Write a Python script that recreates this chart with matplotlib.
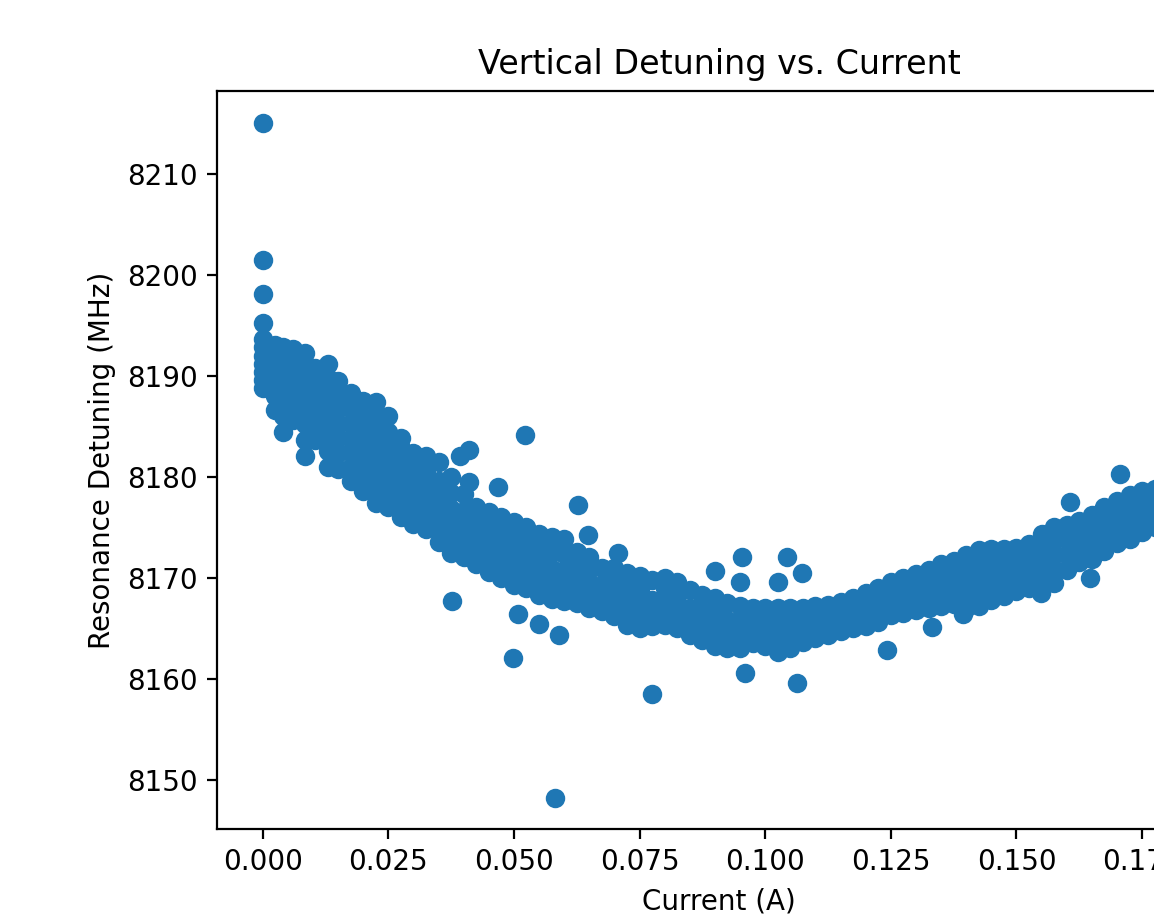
import matplotlib
matplotlib.use("Agg")
import matplotlib.pyplot as plt

# main band: one column of readings per current step (A -> list of MHz)
band_current = [
    0.0000, 0.0025, 0.0040, 0.0060, 0.0085, 0.0105, 0.0130, 0.0150, 0.0175, 0.0200,
    0.0225, 0.0250, 0.0275, 0.0300, 0.0325, 0.0350, 0.0375, 0.0400, 0.0425, 0.0450,
    0.0475, 0.0500, 0.0525, 0.0550, 0.0575, 0.0600, 0.0625, 0.0650, 0.0675, 0.0700,
    0.0725, 0.0750, 0.0775, 0.0800, 0.0825, 0.0850, 0.0875, 0.0900, 0.0925, 0.0950,
    0.0975, 0.1000, 0.1025, 0.1050, 0.1075, 0.1100, 0.1125, 0.1150, 0.1175, 0.1200,
    0.1225, 0.1250, 0.1275, 0.1300, 0.1325, 0.1350, 0.1375, 0.1400, 0.1425, 0.1450,
    0.1475, 0.1500, 0.1525, 0.1550, 0.1575, 0.1600, 0.1625, 0.1650, 0.1675, 0.1700,
    0.1725, 0.1750, 0.1775, 0.1800,
]
band_detuning = [
    [8188.8, 8189.6, 8190.4, 8191.2, 8192.0, 8192.8, 8193.6, 8195.2, 8198.1, 8201.5, 8215.0],
    [8186.6, 8188.0, 8189.3, 8190.6, 8191.8, 8193.0],
    [8184.4, 8186.0, 8187.5, 8189.0, 8190.4, 8191.7, 8192.8],
    [8185.6, 8187.0, 8188.4, 8189.8, 8191.2, 8192.6],
    [8182.0, 8183.6, 8185.2, 8186.8, 8188.3, 8189.8, 8191.0, 8192.2],
    [8183.6, 8185.0, 8186.5, 8188.0, 8189.4, 8190.8],
    [8181.0, 8182.5, 8184.0, 8185.5, 8187.0, 8188.4, 8189.8, 8191.2],
    [8180.8, 8182.3, 8183.8, 8185.2, 8186.7, 8188.1, 8189.5],
    [8179.6, 8181.0, 8182.4, 8183.8, 8185.3, 8186.8, 8188.3],
    [8178.6, 8180.0, 8181.4, 8182.8, 8184.3, 8185.9, 8187.5],
    [8177.4, 8178.9, 8180.4, 8181.9, 8183.4, 8184.9, 8186.2, 8187.4],
    [8177.0, 8178.4, 8179.8, 8181.3, 8182.8, 8184.4, 8186.0],
    [8176.0, 8177.4, 8178.8, 8180.2, 8181.6, 8182.8, 8183.8],
    [8175.3, 8176.7, 8178.1, 8179.5, 8180.9, 8182.3],
    [8174.8, 8176.2, 8177.6, 8179.0, 8180.4, 8182.0],
    [8173.5, 8175.0, 8176.5, 8178.0, 8179.6, 8181.5],
    [8172.4, 8173.8, 8175.3, 8176.8, 8178.4, 8180.0],
    [8172.0, 8173.5, 8175.0, 8176.6, 8178.3],
    [8171.3, 8172.7, 8174.1, 8175.6, 8177.0],
    [8170.6, 8172.0, 8173.5, 8175.0, 8176.5],
    [8170.0, 8171.5, 8173.0, 8174.5, 8176.0],
    [8169.3, 8170.8, 8172.3, 8173.9, 8175.5],
    [8169.0, 8170.5, 8172.0, 8173.5, 8175.0],
    [8168.3, 8169.8, 8171.3, 8172.8, 8174.3],
    [8167.9, 8169.4, 8170.9, 8172.5, 8174.0],
    [8167.7, 8169.2, 8170.7, 8172.3, 8173.8],
    [8167.5, 8168.9, 8170.3, 8171.5, 8172.5],
    [8167.0, 8168.3, 8169.6, 8170.9, 8172.0],
    [8166.7, 8168.0, 8169.3, 8171.0],
    [8166.2, 8167.6, 8169.0, 8170.0, 8171.0],
    [8165.3, 8166.6, 8167.9, 8169.2, 8170.5],
    [8165.0, 8166.3, 8167.6, 8168.9, 8170.2],
    [8165.2, 8166.5, 8167.8, 8169.8],
    [8165.3, 8166.6, 8167.9, 8169.0, 8170.0],
    [8165.0, 8166.3, 8167.6, 8168.6, 8169.6],
    [8164.3, 8165.6, 8167.0, 8168.8],
    [8163.8, 8165.2, 8166.6, 8168.3],
    [8163.2, 8164.6, 8166.0, 8167.0, 8168.0],
    [8163.0, 8164.4, 8165.8, 8167.5],
    [8163.0, 8164.4, 8165.8, 8167.2],
    [8163.5, 8164.8, 8166.0, 8167.0],
    [8163.2, 8164.5, 8165.8, 8167.0],
    [8162.6, 8164.0, 8165.5, 8167.0],
    [8163.0, 8164.4, 8165.7, 8167.0],
    [8163.6, 8164.8, 8166.0, 8167.0],
    [8164.0, 8165.2, 8166.2, 8167.2],
    [8164.3, 8165.3, 8166.3, 8167.3],
    [8164.7, 8165.7, 8166.7, 8167.6],
    [8165.0, 8166.0, 8167.0, 8168.0],
    [8165.2, 8166.3, 8167.4, 8168.5],
    [8165.6, 8166.7, 8167.8, 8169.0],
    [8166.3, 8167.4, 8168.5, 8169.6],
    [8166.5, 8167.6, 8168.8, 8170.0],
    [8166.8, 8168.0, 8169.2, 8170.4],
    [8167.0, 8168.2, 8169.5, 8170.8],
    [8167.2, 8168.5, 8169.9, 8171.3],
    [8167.4, 8168.8, 8170.2, 8171.6],
    [8167.0, 8168.4, 8169.8, 8171.0, 8172.2],
    [8167.2, 8168.6, 8170.0, 8171.4, 8172.7],
    [8167.8, 8169.1, 8170.4, 8171.6, 8172.8],
    [8168.2, 8169.5, 8170.7, 8171.8, 8172.8],
    [8168.7, 8169.8, 8170.9, 8172.0, 8172.9],
    [8169.0, 8170.1, 8171.2, 8172.3, 8173.3],
    [8169.0, 8170.3, 8171.6, 8173.0, 8174.3],
    [8169.5, 8170.9, 8172.3, 8173.7, 8175.0],
    [8170.8, 8172.2, 8173.7, 8175.2],
    [8171.5, 8172.9, 8174.3, 8175.6],
    [8171.8, 8173.2, 8174.7, 8176.2],
    [8172.6, 8174.1, 8175.6, 8177.0],
    [8173.4, 8174.8, 8176.2, 8177.6],
    [8173.8, 8175.3, 8176.8, 8178.2],
    [8174.5, 8175.9, 8177.3, 8178.6],
    [8175.0, 8176.3, 8177.6, 8178.8],
    [8175.5, 8176.8, 8178.0, 8179.2],
]

# scattered points away from the band
stray_current = [
    0.0393, 0.0411, 0.0411, 0.0469, 0.0523, 0.0628, 0.0648, 0.0376, 0.0509, 0.0549,
    0.0589, 0.0499, 0.0774, 0.0582, 0.0708, 0.0900, 0.0954, 0.0950, 0.0960, 0.1043,
    0.1026, 0.1073, 0.1063, 0.1242, 0.1332, 0.1394, 0.1548, 0.1607, 0.1647, 0.1707,
]
stray_detuning = [
    8182.0, 8182.6, 8179.5, 8179.0, 8184.1, 8177.2, 8174.2, 8167.7, 8166.4, 8165.4,
    8164.3, 8162.0, 8158.5, 8148.2, 8172.4, 8170.7, 8172.0, 8169.6, 8160.6, 8172.0,
    8169.6, 8170.5, 8159.6, 8162.8, 8165.1, 8166.4, 8168.5, 8177.5, 8170.0, 8180.3,
]

current = []
detuning = []
for cx, ys in zip(band_current, band_detuning):
    current += [cx] * len(ys)
    detuning += ys
current += stray_current
detuning += stray_detuning

fig = plt.figure(figsize=(5.77, 4.575), dpi=200)
# axes run past the right edge of the picture, as in the cropped original
ax = fig.add_axes([217 / 1154, 86 / 915, 1004 / 1154, 738 / 915])
ax.scatter(current, detuning)
ax.set_xlim(-0.00908, 0.1907)
ax.set_ylim(8145.1, 8218.2)
ax.set_xlabel("Current (A)")
ax.set_ylabel("Resonance Detuning (MHz)")
ax.set_title("Vertical Detuning vs. Current")
fig.savefig("out.png", dpi=200)
